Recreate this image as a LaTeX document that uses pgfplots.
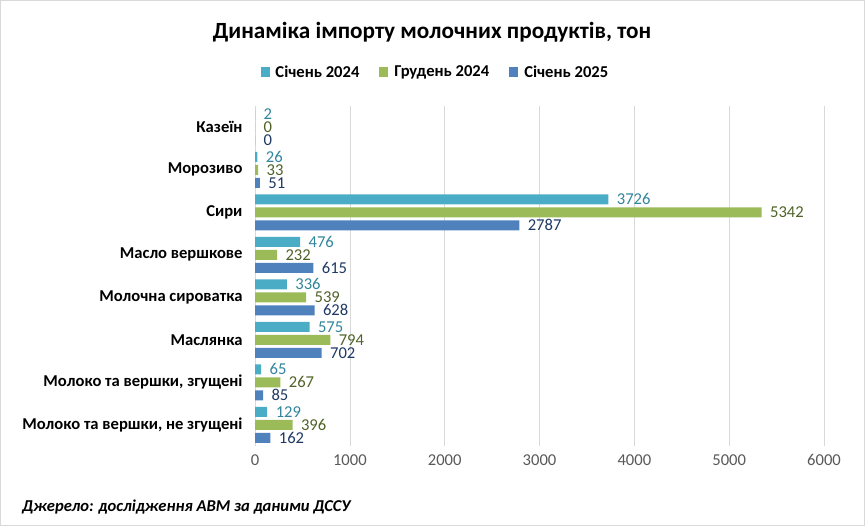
\documentclass[border=0pt]{standalone}
\usepackage{pgfplots}
\pgfplotsset{compat=1.18}
\usepackage{fontspec}
\setmainfont{Carlito}

\definecolor{sa}{HTML}{4BACC6}
\definecolor{sb}{HTML}{9BBB59}
\definecolor{sc}{HTML}{4F81BD}
\definecolor{la}{HTML}{31859C}
\definecolor{lb}{HTML}{4F6228}
\definecolor{lc}{HTML}{1F3864}
\definecolor{gridgray}{HTML}{D9D9D9}
\definecolor{tickgray}{HTML}{595959}
\definecolor{framegray}{HTML}{D9D9D9}

\newcommand{\lab}{\fontsize{16.6bp}{19bp}\selectfont}

\begin{document}
\begin{tikzpicture}
  % chart area
  \path (0bp,0bp) rectangle (865bp,526bp);
  \draw[framegray] (0.5bp,0.5bp) rectangle (864.5bp,525.5bp);
  \node[font=\fontsize{23.2bp}{26bp}\selectfont\bfseries] at (432bp,494bp)
    {Динаміка імпорту молочних продуктів, тон};
  \node[anchor=west, font=\lab\bfseries\itshape, inner sep=0pt] at (22bp,19bp)
    {Джерело: дослідження АВМ за даними ДССУ};

  \begin{axis}[
      at={(255bp,80bp)}, anchor=south west,
      scale only axis, width=569bp, height=340bp,
      xbar, bar width=10bp,
      xmin=0, xmax=6000, ymin=-0.5, ymax=7.5,
      y dir=reverse,
      xtick={0,1000,...,6000},
      ytick={0,...,7},
      yticklabels={Казеїн, Морозиво, Сири, Масло вершкове, Молочна сироватка,
        Маслянка, {Молоко та вершки, згущені}, {Молоко та вершки, не згущені}},
      scaled x ticks=false,
      /pgf/number format/1000 sep={},
      /pgf/number format/assume math mode=true,
      axis lines*=left,
      separate axis lines,
      x axis line style={draw=none},
      y axis line style={draw=gridgray},
      xmajorgrids, major grid style={draw=gridgray},
      major tick length=0pt,
      xticklabel style={font=\lab, text=tickgray, yshift=-5bp},
      yticklabel style={font=\lab\bfseries, xshift=-9bp},
      nodes near coords,
      nodes near coords style={font=\lab, anchor=west, inner ysep=0pt,
        text height=10.5bp, text depth=0pt, xshift=5bp},
      legend columns=-1,
      legend style={at={(0.317,1.1)}, anchor=center, draw=none, fill=none,
        font=\lab\bfseries,
        /tikz/every even column/.append style={column sep=18bp}},
      legend image code/.code={\fill[#1] (0bp,-4.5bp) rectangle (9bp,4.5bp);
        \path (13bp,0bp);},
    ]
    % Січень 2024
    \addplot[fill=sa, draw=none, bar shift=13bp, every node near coord/.append style={text=la}]
      coordinates {(2,0) (26,1) (3726,2) (476,3) (336,4) (575,5) (65,6) (129,7)};
    % Грудень 2024
    \addplot[fill=sb, draw=none, bar shift=0bp, every node near coord/.append style={text=lb}]
      coordinates {(0,0) (33,1) (5342,2) (232,3) (539,4) (794,5) (267,6) (396,7)};
    % Січень 2025
    \addplot[fill=sc, draw=none, bar shift=-13bp, every node near coord/.append style={text=lc}]
      coordinates {(0,0) (51,1) (2787,2) (615,3) (628,4) (702,5) (85,6) (162,7)};
    \legend{Січень 2024, Грудень 2024, Січень 2025}
  \end{axis}
\end{tikzpicture}
\end{document}
